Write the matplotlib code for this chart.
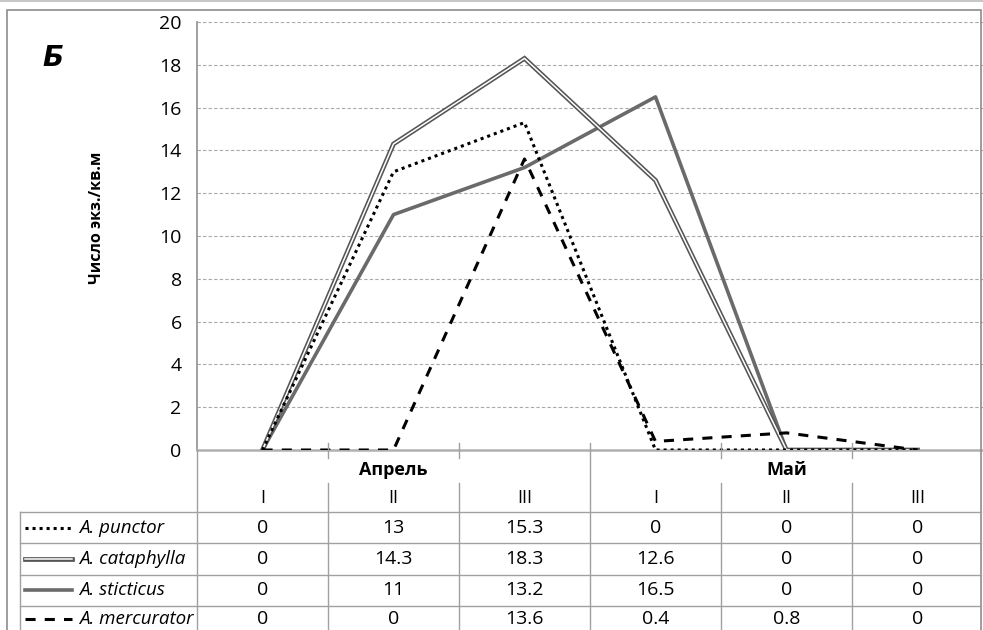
import matplotlib
matplotlib.use("Agg")
import matplotlib.pyplot as plt
from matplotlib import transforms
from matplotlib.lines import Line2D
from matplotlib.patches import Rectangle

plt.rcParams['font.family'] = ['Open Sans', 'DejaVu Sans']

# データ
months = ["Апрель", "Май"]
decades = ["I", "II", "III", "I", "II", "III"]
species = ["A. punctor", "A. cataphylla", "A. sticticus", "A. mercurator"]
punctor = [0, 13, 15.3, 0, 0, 0]
cataphylla = [0, 14.3, 18.3, 12.6, 0, 0]
sticticus = [0, 11, 13.2, 16.5, 0, 0]
mercurator = [0, 0, 13.6, 0.4, 0.8, 0]
series = [punctor, cataphylla, sticticus, mercurator]
ylabel = "Число экз./кв.м"
panel = "Б"

W, H = 983, 630
fig = plt.figure(figsize=(W / 100, H / 100), dpi=100)

def fx(x):
    return x / W

def fy(y):
    return 1 - y / H

# 外枠
fig.add_artist(Line2D([0, 1], [fy(0.5), fy(0.5)], color="#c8c8c8", lw=1.5))
fig.add_artist(Rectangle((fx(7), fy(660)), fx(981) - fx(7), fy(10) - fy(660),
                         fill=False, edgecolor="#8c8c8c", lw=1.2))

ax = fig.add_axes([fx(197), fy(450), fx(983) - fx(197), fy(22) - fy(450)])
x = list(range(len(decades)))

# 線のスタイル
ax.plot(x, punctor, color="black", lw=2.2, linestyle=(0, (1, 1.3)), zorder=5)
ax.plot(x, cataphylla, color="#555555", lw=3.4, zorder=4, solid_joinstyle="miter")
ax.plot(x, cataphylla, color="white", lw=1.1, zorder=4.1, solid_joinstyle="miter")
ax.plot(x, sticticus, color="#6a6a6a", lw=2.6, zorder=3)
ax.plot(x, mercurator, color="black", lw=2.2, linestyle=(0, (3.3, 3)), zorder=6)

ax.set_xlim(-0.5, len(decades) - 0.5)
ax.set_ylim(0, 20)
ax.set_yticks(range(0, 21, 2))
ax.tick_params(axis="y", length=0, labelsize=14, pad=11)
ax.set_xticks([])
ax.grid(axis="y", color="#a8a8a8", linestyle=(0, (3, 2)), lw=0.8)
for s in ["top", "right"]:
    ax.spines[s].set_visible(False)
ax.spines["left"].set_color("#999999")
ax.spines["left"].set_linewidth(1.3)
ax.spines["bottom"].set_color("#b0b0b0")
ax.spines["bottom"].set_linewidth(1.8)
ax.set_axisbelow(True)

fig.text(fx(97), fy(218), ylabel, rotation=90, ha="center", va="center",
         fontsize=11.5, fontweight="bold")
fig.text(fx(53), fy(58), panel, ha="center", va="center", fontsize=20,
         fontweight="heavy", style="italic", family=["DejaVu Sans"])

# データテーブル
tr = transforms.blended_transform_factory(ax.transData, fig.transFigure)
grid_c = "#a0a0a0"
row_top = [450, 482, 512, 543, 575, 606]
row_mid = [470, 498, 528, 559, 590, 619]

# 目盛り線（カテゴリ境界）
for i in range(1, len(decades)):
    b = i - 0.5
    if i == 3:
        fig.add_artist(Line2D([b, b], [fy(443), fy(660)], color=grid_c, lw=1, transform=tr))
    else:
        fig.add_artist(Line2D([b, b], [fy(443), fy(458)], color=grid_c, lw=1, transform=tr))
        fig.add_artist(Line2D([b, b], [fy(483), fy(660)], color=grid_c, lw=1, transform=tr))
fig.add_artist(Line2D([-0.5, -0.5], [fy(450), fy(660)], color=grid_c, lw=1, transform=tr))
fig.add_artist(Line2D([fx(20), fx(20)], [fy(512), fy(660)], color=grid_c, lw=1))
for y in row_top[2:]:
    fig.add_artist(Line2D([fx(20), fx(981)], [fy(y), fy(y)], color=grid_c, lw=1))

for j, m in enumerate(months):
    fig.text(1 + 3 * j, fy(row_mid[0]), m, transform=tr, ha="center", va="center",
             fontsize=13, fontweight="bold")
for i, d in enumerate(decades):
    fig.text(i, fy(row_mid[1]), d, transform=tr, ha="center", va="center", fontsize=13)

samples = [
    dict(color="black", lw=2.2, linestyle=(0, (1, 1.3))),
    dict(color="#555555", lw=3.4),
    dict(color="#6a6a6a", lw=2.6),
    dict(color="black", lw=2.2, linestyle=(0, (3.3, 3))),
]
for k, (name, vals) in enumerate(zip(species, series)):
    yc = fy(row_mid[k + 2])
    fig.add_artist(Line2D([fx(25), fx(72)], [yc, yc], **samples[k]))
    if k == 1:
        fig.add_artist(Line2D([fx(25), fx(72)], [yc, yc], color="white", lw=1.1))
    fig.text(fx(79), yc, name, ha="left", va="center", fontsize=13.5, style="italic")
    for i, v in enumerate(vals):
        fig.text(i, yc, f"{v:g}", transform=tr, ha="center", va="center", fontsize=14)

fig.savefig("out.png", dpi=100)
